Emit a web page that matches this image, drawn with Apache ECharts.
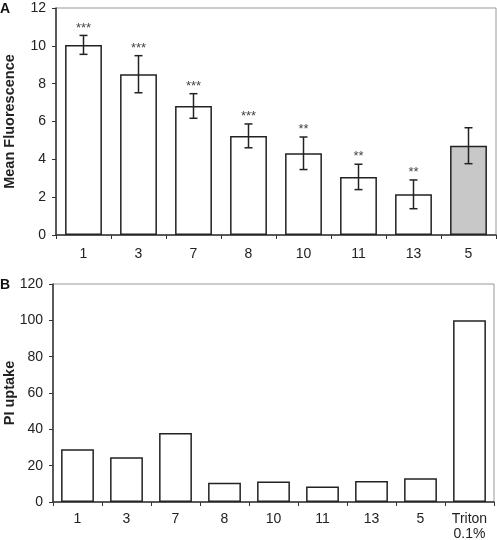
<!DOCTYPE html>
<html><head><meta charset="utf-8">
<script src="https://cdn.jsdelivr.net/npm/echarts@6/dist/echarts.min.js"></script>
<style>html,body{margin:0;padding:0;background:#fff}#c{width:497px;height:540px}</style>
</head><body><div id="c"></div>
<script>
const catsA = ['1','3','7','8','10','11','13','5'];
const meanA = [10.05, 8.5, 6.82, 5.24, 4.32, 3.07, 2.15, 4.72];
const errA = [0.5, 0.98, 0.65, 0.63, 0.86, 0.67, 0.76, 0.95];
const sigA = ['***','***','***','***','**','**','**',''];
const ticksA = [0, 12, 2];
const catsB = ['1','3','7','8','10','11','13','5','Triton\n0.1%'];
const valB = [29.1, 24.6, 38, 10.6, 11.3, 8.5, 11.6, 13.1, 100];
const ticksB = [0, 120, 20];

const FONT = "'Liberation Sans', Arial, sans-serif";
const AX = '#333';
const chart = echarts.init(document.getElementById('c'), null, {renderer: 'canvas'});

function xAx(gi, cats, margin) {
  return {
    type: 'category', gridIndex: gi, data: cats,
    axisLine: {lineStyle: {color: AX, width: 1.5}},
    axisTick: {show: true, length: 4, lineStyle: {color: AX, width: 1}},
    axisLabel: {color: '#222', fontSize: 14, fontFamily: FONT, margin: margin, lineHeight: 15, interval: 0},
    splitLine: {show: false}
  };
}
function yAx(gi, t, name, gap) {
  return {
    type: 'value', gridIndex: gi, min: t[0], max: t[1], interval: t[2],
    name: name, nameLocation: 'middle', nameGap: gap, nameMoveOverlap: false,
    nameTextStyle: {color: '#222', fontSize: 14.5, fontWeight: 'bold', fontFamily: FONT},
    axisLine: {show: true, lineStyle: {color: AX, width: 1.5}},
    axisTick: {show: true, length: 4, lineStyle: {color: AX, width: 1}},
    axisLabel: {color: '#222', fontSize: 14, fontFamily: FONT, margin: 10},
    splitLine: {show: false}
  };
}

chart.setOption({
  animation: false,
  grid: [
    {left: 56, top: 8, width: 440, height: 227, show: true, borderColor: '#999', borderWidth: 1, backgroundColor: 'transparent', containLabel: false, outerBoundsMode: 'none'},
    {left: 53, top: 284, width: 441, height: 218, show: true, borderColor: '#999', borderWidth: 1, backgroundColor: 'transparent', containLabel: false, outerBoundsMode: 'none'}
  ],
  xAxis: [xAx(0, catsA, 12), xAx(1, catsB, 10)],
  yAxis: [yAx(0, ticksA, 'Mean Fluorescence', 39), yAx(1, ticksB, 'PI uptake', 36)],
  graphic: [
    {type: 'text', left: 0, top: 2, style: {text: 'A', font: 'bold 14px ' + FONT, fill: '#111'}},
    {type: 'text', left: 0, top: 278, style: {text: 'B', font: 'bold 14px ' + FONT, fill: '#111'}}
  ],
  series: [
    {
      type: 'bar', xAxisIndex: 0, yAxisIndex: 0, barCategoryGap: '33%',
      data: meanA.map((v, i) => ({value: v, itemStyle: {color: i === meanA.length - 1 ? '#c8c8c8' : '#fff'}})),
      itemStyle: {borderColor: '#222', borderWidth: 1.5}
    },
    {
      type: 'custom', xAxisIndex: 0, yAxisIndex: 0, z: 5,
      data: meanA.map((v, i) => [i, v, errA[i]]),
      encode: {x: 0, y: 1},
      renderItem: function (params, api) {
        const i = api.value(0), m = api.value(1), e = api.value(2);
        const s = sigA[i];
        const hi = api.coord([i, m + e]), lo = api.coord([i, m - e]);
        const cw = 4;
        const st = {stroke: '#222', lineWidth: 1.5};
        const children = [
          {type: 'line', shape: {x1: hi[0], y1: hi[1], x2: lo[0], y2: lo[1]}, style: st},
          {type: 'line', shape: {x1: hi[0] - cw, y1: hi[1], x2: hi[0] + cw, y2: hi[1]}, style: st},
          {type: 'line', shape: {x1: lo[0] - cw, y1: lo[1], x2: lo[0] + cw, y2: lo[1]}, style: st}
        ];
        if (s) children.push({type: 'text', x: hi[0], y: hi[1] - 1,
          style: {text: s, font: '13px ' + FONT, fill: '#444', align: 'center', verticalAlign: 'bottom'}});
        return {type: 'group', children: children};
      }
    },
    {
      type: 'bar', xAxisIndex: 1, yAxisIndex: 1, barCategoryGap: '33%',
      data: valB,
      itemStyle: {color: '#fff', borderColor: '#222', borderWidth: 1.5}
    }
  ]
});
</script>
</body></html>
